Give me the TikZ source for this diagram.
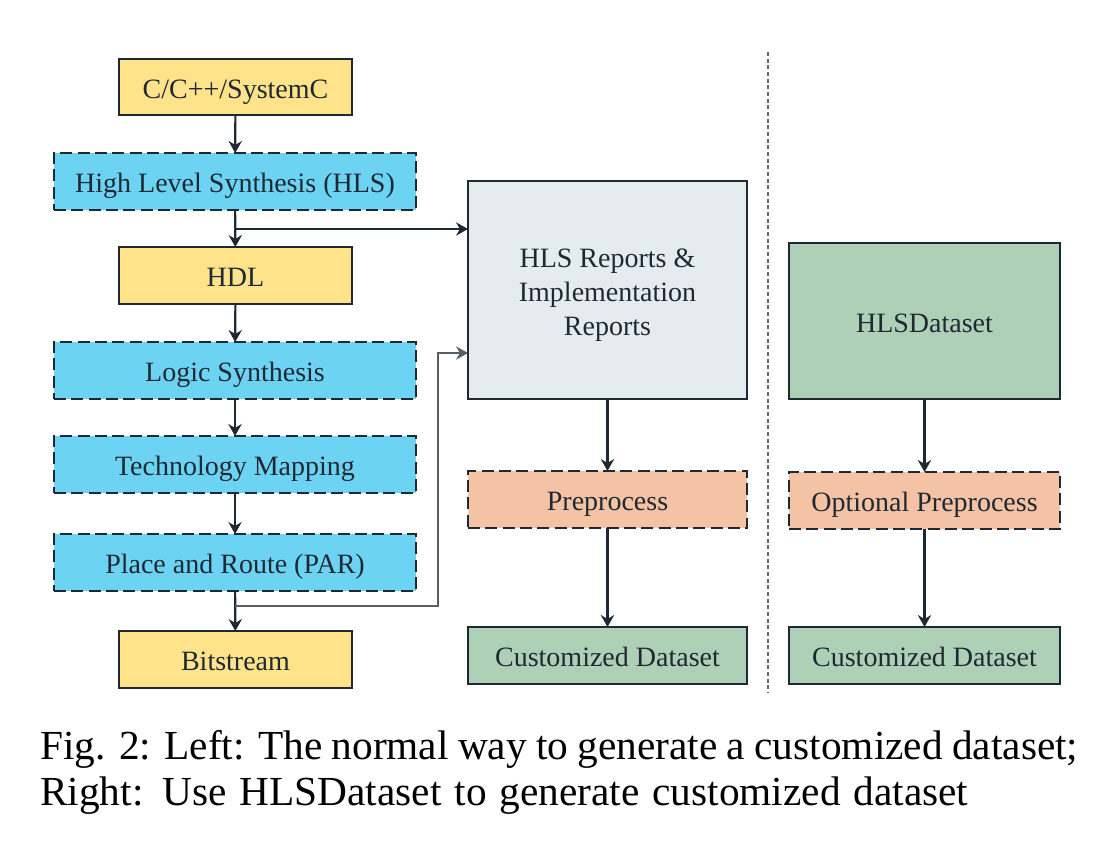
\documentclass[tikz,border=0pt]{standalone}
\usepackage{fontspec}
\setmainfont{Liberation Serif}
\usetikzlibrary{arrows.meta}
\definecolor{cyel}{HTML}{FFE38A}
\definecolor{ccyan}{HTML}{6DD3F3}
\definecolor{crep}{HTML}{E5ECF0}
\definecolor{cpeach}{HTML}{F4C3A6}
\definecolor{cgreen}{HTML}{AED0B7}
\definecolor{cline}{HTML}{1F2933}
\newcommand{\bxx}[7]{\node[#6, minimum width={(#4-#2)*0.75pt}, minimum height={(#5-#3)*0.75pt}] (#1) at ({(#2+#4)/2},{(#3+#5)/2}) {#7};}
\tikzset{
  box/.style={draw=cline, line width=1.9pt, inner sep=0pt, outer sep=0pt, text=cline,
    font=\fontsize{21}{25.5}\selectfont, align=center, text height=17pt, text depth=0pt},
  dbox/.style={box, dash pattern=on 9pt off 4pt},
  arr/.style={draw=cline, line width=1.6pt, -{Stealth[length=9pt,width=10pt,inset=3pt]}},
  thinarr/.style={draw=cline!75, line width=0.9pt, -{Stealth[length=9pt,width=10pt,inset=3pt]}},
  capt/.style={anchor=base west, inner sep=0pt, font=\fontsize{31}{37.5}\selectfont},
}
\begin{document}
\begin{tikzpicture}[x=0.75pt,y=-0.75pt]
\useasboundingbox[fill=white] (0,0) rectangle (1112,851);
\bxx{src}{119}{59}{352}{115}{box, fill=cyel}{C/C++/SystemC}
\bxx{hls}{54}{153}{416}{210}{dbox, fill=ccyan}{High Level Synthesis (HLS)}
\bxx{hdl}{119}{247}{352}{304}{box, fill=cyel}{HDL}
\bxx{ls}{54}{342}{416}{399}{dbox, fill=ccyan}{Logic Synthesis}
\bxx{tm}{54}{436}{416}{493}{dbox, fill=ccyan}{Technology Mapping}
\bxx{par}{54}{534}{416}{591}{dbox, fill=ccyan}{Place and Route (PAR)}
\bxx{bit}{119}{631}{352}{688}{box, fill=cyel}{Bitstream}
\bxx{rep}{468}{181}{747}{399}{box, fill=crep, text height=30pt, text depth=12pt}{\begin{tabular}{@{}c@{}}HLS Reports \&\\Implementation\\Reports\end{tabular}}
\bxx{pre}{468}{471}{747}{528}{dbox, fill=cpeach}{Preprocess}
\bxx{cdl}{468}{627}{747}{684}{box, fill=cgreen}{Customized Dataset}
\bxx{hds}{789}{243}{1060}{399}{box, fill=cgreen}{HLSDataset}
\bxx{opt}{789}{472}{1060}{529}{dbox, fill=cpeach}{Optional Preprocess}
\bxx{cdr}{789}{627}{1060}{684}{box, fill=cgreen}{Customized Dataset}
% connectors
\draw[arr] (src) -- (hls);
\draw[arr] (hls) -- (hdl);
\coordinate (b1) at (235,229);
\draw[arr] (b1) -- (b1 -| rep.west);
\draw[arr] (hdl) -- (ls);
\draw[arr] (ls) -- (tm);
\draw[arr] (tm) -- (par);
\draw[arr] (par) -- (bit);
\coordinate (b2) at (235,606);
\coordinate (k2) at (438,353);
\draw[thinarr] (b2) -| (k2) -- (k2 -| rep.west);
\draw[arr] (rep) -- (pre);
\draw[arr] (pre) -- (cdl);
\draw[arr] (hds) -- (opt);
\draw[arr] (opt) -- (cdr);
% separator
\coordinate (s1) at (768,52);
\coordinate (s2) at (768,693);
\draw[cline!70, line width=0.8pt, dash pattern=on 3pt off 2pt] (s1) -- (s2);
% caption
\node[capt] (cap1) at (40,759) {\makebox[778.5pt][s]{Fig. 2: Left: The normal way to generate a customized dataset;}};
\node[capt] (cap2) at (40,805) {\makebox[696pt][s]{Right: Use HLSDataset to generate customized dataset}};
\end{tikzpicture}
\end{document}
